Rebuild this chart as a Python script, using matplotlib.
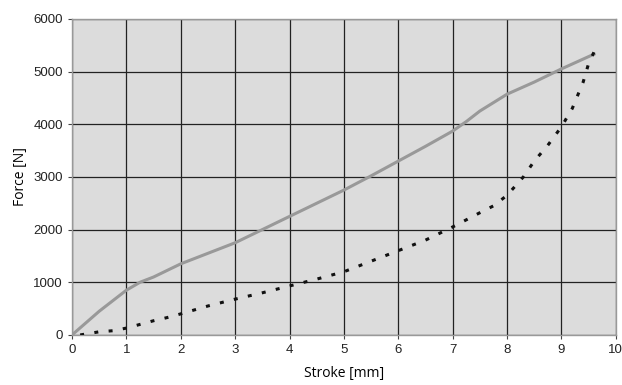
import matplotlib
matplotlib.use("Agg")
import matplotlib.pyplot as plt

# Force-stroke curves
stroke_solid = [0, 0.5, 1.0, 1.25, 1.5, 2.0, 2.5, 3.0, 3.5, 4.0, 4.5, 5.0, 5.5, 6.0,
                6.5, 7.0, 7.25, 7.5, 8.0, 8.5, 9.0, 9.6]
force_solid = [0, 450, 850, 1000, 1100, 1350, 1550, 1750, 2000, 2250, 2500, 2750,
               3020, 3300, 3580, 3870, 4050, 4250, 4570, 4800, 5050, 5330]

stroke_dotted = [0.15, 0.5, 0.75, 1.0, 1.25, 1.5, 1.75, 2.0, 2.5, 3.0, 3.5, 4.0, 4.5,
                 5.0, 5.5, 6.0, 6.5, 7.0, 7.5, 7.75, 8.0, 8.3, 8.5, 8.75, 9.0, 9.2,
                 9.4, 9.5, 9.6]
force_dotted = [0, 60, 80, 130, 200, 270, 330, 400, 550, 680, 800, 930, 1060,
                1200, 1400, 1600, 1800, 2050, 2320, 2450, 2650, 3000, 3300, 3600,
                3950, 4300, 4800, 5150, 5370]

x_ticks = list(range(0, 11))
y_ticks = list(range(0, 7000, 1000))

fig = plt.figure(figsize=(6.22, 3.85), dpi=100)
ax = fig.add_axes([0.1158, 0.130, 0.8742, 0.821])
ax.set_facecolor('#dcdcdc')

ax.plot(stroke_solid, force_solid, color='#999999', linewidth=2.2, zorder=3)
ax.plot(stroke_dotted, force_dotted, color='#111111', linewidth=2.2,
        linestyle=(0, (1.3, 3.4)), zorder=3)

ax.set_xlim(0, 10)
ax.set_ylim(0, 6000)
ax.set_xticks(x_ticks)
ax.set_yticks(y_ticks)
ax.grid(True, color='#222222', linewidth=0.9, zorder=1)
ax.set_axisbelow(True)

for s in ax.spines.values():
    s.set_color('#999999')
    s.set_linewidth(1.0)

ax.tick_params(axis='both', length=3, width=0.8, color='#444444',
               labelsize=9.5, labelcolor='#222222')
for lab in ax.get_xticklabels() + ax.get_yticklabels():
    lab.set_family('Liberation Sans')

ax.set_xlabel('Stroke [mm]', fontsize=10, family='Open Sans', labelpad=7)
ax.set_ylabel('Force [N]', fontsize=10, family='Open Sans', labelpad=4)

plt.savefig('out.png', dpi=100)
plt.close()
